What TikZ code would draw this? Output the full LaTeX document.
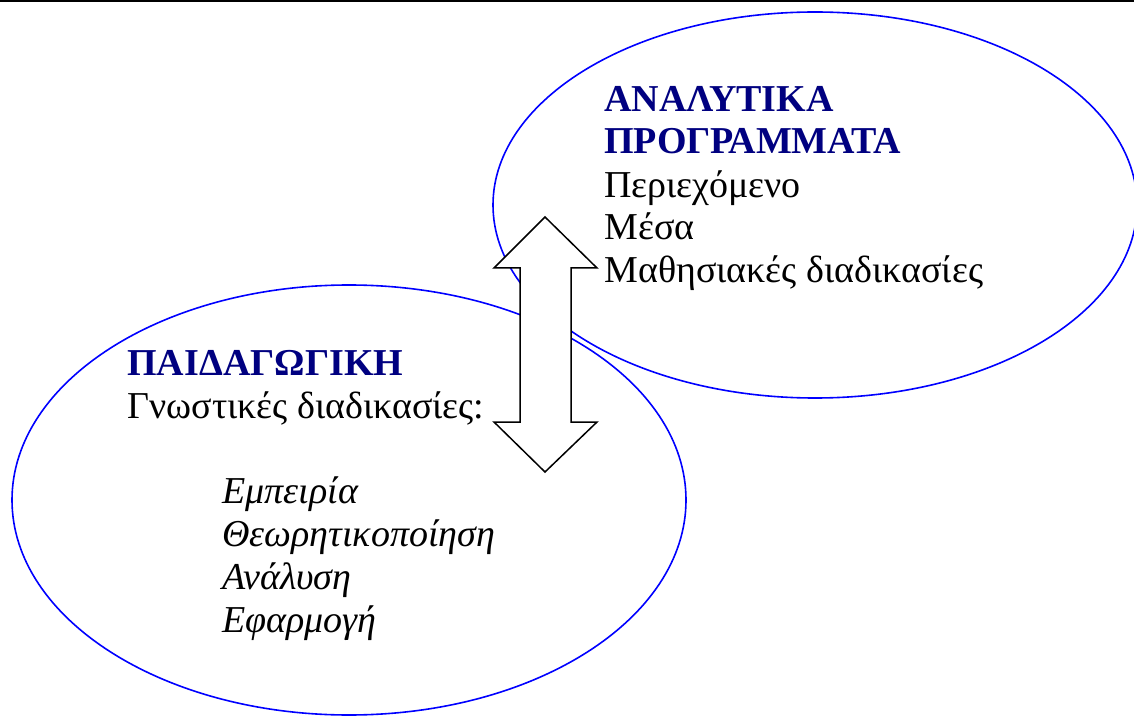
\documentclass[tikz,border=0pt]{standalone}
\usepackage{fontspec}
\setmainfont{Liberation Serif}
\usetikzlibrary{positioning}
\definecolor{ringBlue}{RGB}{0,0,255}
\definecolor{headNavy}{RGB}{0,0,128}

\begin{document}
\begin{tikzpicture}[x=0.5pt,y=-0.5pt,
    ring/.style={draw=ringBlue,line width=0.8pt},
    head/.style={anchor=base west,inner sep=0pt,text=headNavy,
      font=\fontsize{19}{22}\selectfont\bfseries},
    item/.style={anchor=base west,inner sep=0pt,
      font=\fontsize{19}{22}\selectfont},
    twoway/.style={draw=black,fill=white,line width=0.75pt,line join=miter}]
  \useasboundingbox (0,0) rectangle (1134,721);
  \draw[line width=1pt] (0,1) -- (1134,1);
  % the two ellipses
  \draw[ring] (815,205) ellipse [x radius=322, y radius=193];
  \draw[ring] (349,500) ellipse [x radius=337, y radius=215];
  % double arrow between them
  \draw[twoway] (545,217) -- (597,268) -- (571,268) -- (571,422) -- (597,422)
    -- (545,472) -- (494,422) -- (520,422) -- (520,268) -- (494,268) -- cycle;
  % upper ellipse text
  \node[head] (prog1) at (604,112) {ΑΝΑΛΥΤΙΚΑ};
  \node[head] (prog2) at (604,154) {ΠΡΟΓΡΑΜΜΑΤΑ};
  \foreach \name/\y/\txt in {cont/198/Περιεχόμενο, media/240/Μέσα,
      learn/283/Μαθησιακές διαδικασίες} {
    \node[item] (\name) at (604,\y) {\txt};
  }
  % lower ellipse text
  \node[head] (paid) at (127,375) {ΠΑΙΔΑΓΩΓΙΚΗ};
  \node[item] (cogn) at (127,418) {Γνωστικές διαδικασίες:};
  \foreach \name/\y/\txt in {emp/503/Εμπειρία, theo/546/Θεωρητικοποίηση,
      anal/589/Ανάλυση, app/632/Εφαρμογή} {
    \node[item,font=\fontsize{19}{22}\selectfont\itshape] (\name) at (222,\y) {\txt};
  }
\end{tikzpicture}
\end{document}
